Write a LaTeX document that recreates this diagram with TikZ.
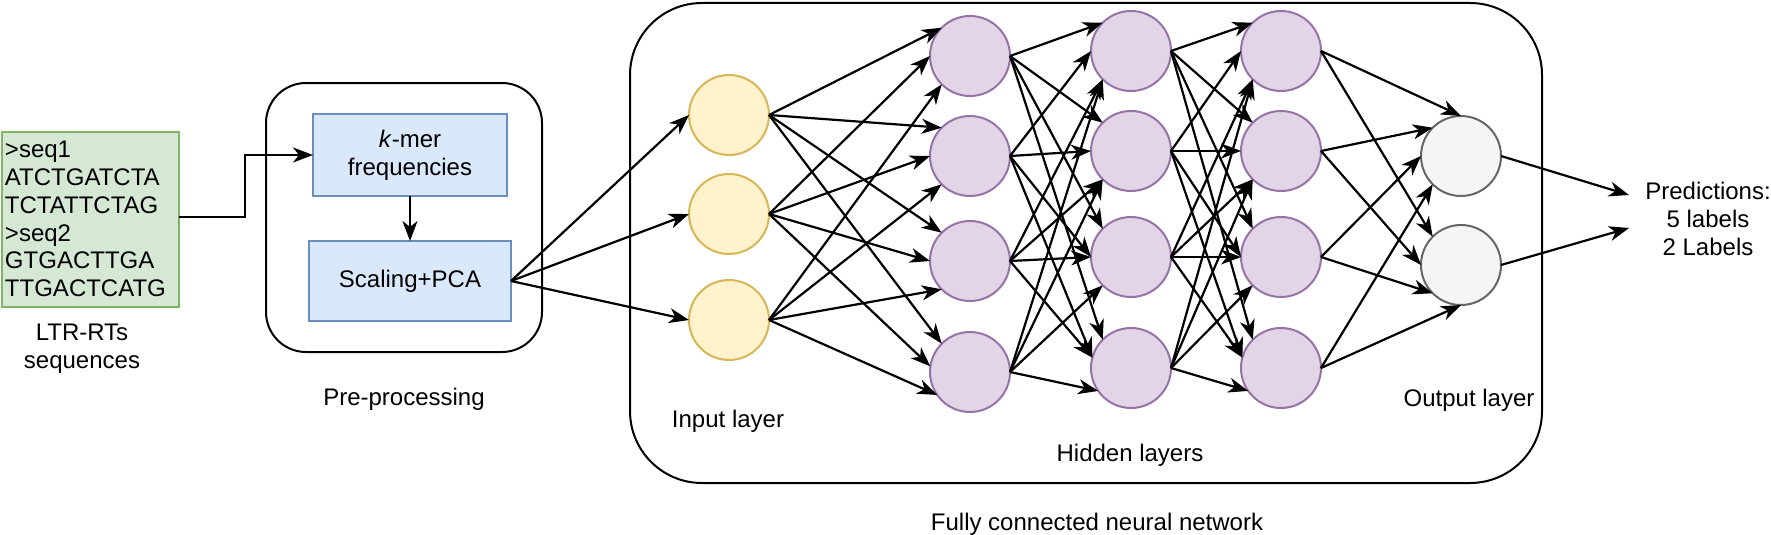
\documentclass[tikz,border=0pt]{standalone}
\usepackage{fontspec}
\setmainfont{Liberation Sans}
\usetikzlibrary{arrows.meta}
\definecolor{grnF}{HTML}{D5E8D4}\definecolor{grnS}{HTML}{82B366}
\definecolor{bluF}{HTML}{DAE8FC}\definecolor{bluS}{HTML}{6C8EBF}
\definecolor{ylwF}{HTML}{FFF2CC}\definecolor{ylwS}{HTML}{D6B656}
\definecolor{prpF}{HTML}{E1D5E7}\definecolor{prpS}{HTML}{9673A6}
\definecolor{gryF}{HTML}{F5F5F5}\definecolor{gryS}{HTML}{666666}
\begin{document}
\begin{tikzpicture}[x=1pt,y=-1pt,
  every node/.style={font=\fontsize{24pt}{27.75pt}\selectfont, outer sep=0pt},
  lbl/.style={inner sep=0pt, align=center},
  seqbox/.style={draw=grnS, fill=grnF, line width=2pt, minimum width=177pt, minimum height=175pt, text width=170pt, inner xsep=3.5pt, align=left},
  procbox/.style={draw=bluS, fill=bluF, line width=2pt, align=center, inner sep=0pt},
  groupbox/.style={draw=black, line width=2pt, inner sep=0pt},
  neuron/.style={circle, line width=2pt, minimum size=80pt, inner sep=0pt},
  inn/.style={neuron, draw=ylwS, fill=ylwF},
  hid/.style={neuron, draw=prpS, fill=prpF},
  outn/.style={neuron, draw=gryS, fill=gryF},
  edge/.style={draw, line width=2.2pt, -{Stealth[length=20pt,width=15pt,inset=6pt]}}
]
\useasboundingbox (0,0) rectangle (1771,535);

% groups
\node[groupbox, rounded corners=40pt, minimum width=276pt, minimum height=269pt] (pre) at (404,217.5) {};
\node[groupbox, rounded corners=72pt, minimum width=912pt, minimum height=480pt] (fcnn) at (1086,243) {};

% input sequences
\node[seqbox] (seqs) at (90,219) {>seq1\\ATCTGATCTA\\TCTATTCTAG\\>seq2\\GTGACTTGA\\TTGACTCATG};
\node[lbl] (ltr) at (82,349) {LTR-RTs\\sequences};

% pre-processing
\node[procbox, minimum width=194pt, minimum height=82pt] (kmer) at (410,155) {\textit{k}-mer\\frequencies};
\node[procbox, minimum width=202pt, minimum height=80pt] (pca) at (410,281) {Scaling+PCA};
\node[lbl, anchor=base] (prelbl) at (404,405) {Pre-processing};

% neurons
\node[inn] (i1) at (729,115) {};
\node[inn] (i2) at (729,214) {};
\node[inn] (i3) at (729,320) {};
\foreach \y [count=\k] in {56,156,261,372} {\node[hid] (ha\k) at (970,\y) {};}
\foreach \y [count=\k] in {51,151,257,368} {\node[hid] (hb\k) at (1131,\y) {};}
\foreach \y [count=\k] in {51,151,257,368} {\node[hid] (hc\k) at (1281,\y) {};}
\node[outn] (o1) at (1461,156) {};
\node[outn] (o2) at (1461,265) {};

% labels
\node[lbl, anchor=base] (inlbl) at (728,427) {Input layer};
\node[lbl, anchor=base] (hidlbl) at (1130,461) {Hidden layers};
\node[lbl, anchor=base] (outlbl) at (1469,406) {Output layer};
\node[lbl, anchor=base] (fclbl) at (1097,530) {Fully connected neural network};
\node[lbl] (pred) at (1708,219) {Predictions:\\5 labels\\2 Labels};
\coordinate (p1) at (1629,195);
\coordinate (p2) at (1629,228);

% connectors
\coordinate (bend1) at (245,217);
\coordinate (bend2) at (245,155);
\draw[edge] (seqs.east |- bend1) -- (bend1) -- (bend2) -- (kmer.west);
\draw[edge] (kmer.south) -- (pca.north);
\foreach \k in {1,2,3} {\draw[edge] (pca.east) -- (i\k.west);}

\foreach \j/\angs in {1/{135,180,225},2/{135,180,225},3/{135,180,225},4/{135,172,215}} {
  \foreach \a [count=\i] in \angs {\draw[edge] (i\i.east) -- (ha\j.\a);}
}
\foreach \j/\angs in {1/{135,180,225,225},2/{135,180,225,225},3/{135,180,180,225},4/{135,165,165,215}} {
  \foreach \a [count=\i] in \angs {
    \draw[edge] (ha\i.east) -- (hb\j.\a);
    \draw[edge] (hb\i.east) -- (hc\j.\a);
  }
}
\foreach \j/\angs in {1/{90,135,180,225},2/{135,180,225,270}} {
  \foreach \a [count=\i] in \angs {\draw[edge] (hc\i.east) -- (o\j.\a);}
}
\draw[edge] (o1.east) -- (p1);
\draw[edge] (o2.east) -- (p2);
\end{tikzpicture}
\end{document}
